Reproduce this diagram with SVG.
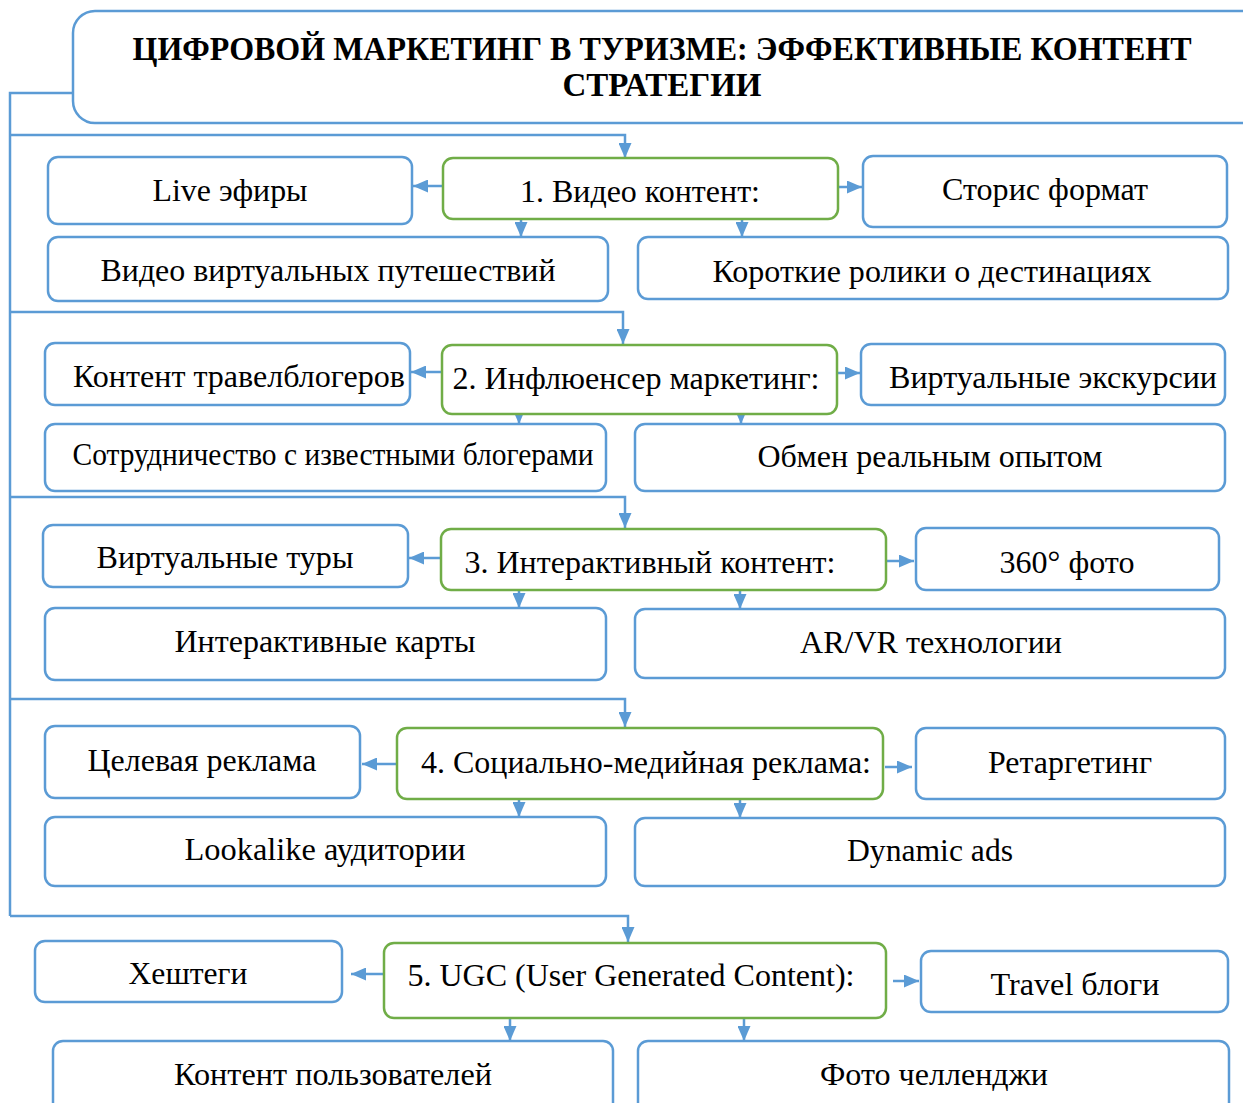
<svg xmlns="http://www.w3.org/2000/svg" width="1243" height="1103" viewBox="0 0 1243 1103">
<defs>
<marker id="ah" viewBox="0 0 15 13" refX="15" refY="6.5" markerWidth="15" markerHeight="13" markerUnits="userSpaceOnUse" orient="auto">
<path d="M0,0 L15,6.5 L0,13 Z" fill="#5B9BD5"/>
</marker>
<style>
.b{fill:#fff;stroke:#5B9BD5;stroke-width:2.5}
.g{fill:#fff;stroke:#70AD47;stroke-width:2.5}
.c{fill:none;stroke:#5B9BD5;stroke-width:2.5}
.a{fill:none;stroke:#5B9BD5;stroke-width:2.5;marker-end:url(#ah)}
text{font-family:'Liberation Serif','Times New Roman',serif;font-size:32px;fill:#000;text-anchor:middle}
.t{font-weight:bold;font-size:33px}
</style>
</defs>
<rect width="1243" height="1103" fill="#fff"/>
<g id="title">
<rect class="b" x="73" y="11" width="1190" height="112" rx="22"/>
<text class="t" x="662" y="60" textLength="1059" lengthAdjust="spacingAndGlyphs">ЦИФРОВОЙ МАРКЕТИНГ В ТУРИЗМЕ: ЭФФЕКТИВНЫЕ КОНТЕНТ</text>
<text class="t" x="662" y="96" textLength="199" lengthAdjust="spacingAndGlyphs">СТРАТЕГИИ</text>
</g>
<g id="connectors">
<path class="c" d="M73,93 H10 V916"/>
<path class="a" d="M10,135 H625 V158"/>
<path class="a" d="M10,312 H623 V344"/>
<path class="a" d="M10,497 H625 V528"/>
<path class="a" d="M10,699 H625 V727"/>
<path class="a" d="M10,916 H628 V942"/>
<path class="a" d="M443,186 H413"/>
<path class="a" d="M838,187 H862"/>
<path class="a" d="M521,219 V237"/>
<path class="a" d="M742,219 V237"/>
<path class="a" d="M442,372 H411"/>
<path class="a" d="M837,373 H860"/>
<path class="a" d="M519,413 V424"/>
<path class="a" d="M741,413 V424"/>
<path class="a" d="M441,558 H409"/>
<path class="a" d="M886,561 H914"/>
<path class="a" d="M519,590 V608"/>
<path class="a" d="M740,590 V609"/>
<path class="a" d="M397,764 H362"/>
<path class="a" d="M885,767 H912"/>
<path class="a" d="M519,799 V817"/>
<path class="a" d="M740,799 V818"/>
<path class="a" d="M384,974 H351"/>
<path class="a" d="M893,981 H919"/>
<path class="a" d="M510,1018 V1041"/>
<path class="a" d="M744,1018 V1041"/>
</g>
<g id="n1">
<rect class="g" x="443" y="158" width="395" height="61" rx="10"/>
<text x="640" y="202" textLength="240" lengthAdjust="spacingAndGlyphs">1. Видео контент:</text>
</g>
<g id="n1a">
<rect class="b" x="48" y="157" width="364" height="67" rx="10"/>
<text x="230" y="201" textLength="155" lengthAdjust="spacingAndGlyphs">Live эфиры</text>
</g>
<g id="n1b">
<rect class="b" x="863" y="156" width="364" height="71" rx="10"/>
<text x="1045" y="200" textLength="206" lengthAdjust="spacingAndGlyphs">Сторис формат</text>
</g>
<g id="n1c">
<rect class="b" x="48" y="237" width="560" height="64" rx="10"/>
<text x="328" y="281" textLength="455" lengthAdjust="spacingAndGlyphs">Видео виртуальных путешествий</text>
</g>
<g id="n1d">
<rect class="b" x="638" y="237" width="590" height="62" rx="10"/>
<text x="932" y="282" textLength="439" lengthAdjust="spacingAndGlyphs">Короткие ролики о дестинациях</text>
</g>
<g id="n2">
<rect class="g" x="442" y="345" width="395" height="69" rx="10"/>
<text x="636" y="389" textLength="367" lengthAdjust="spacingAndGlyphs">2. Инфлюенсер маркетинг:</text>
</g>
<g id="n2a">
<rect class="b" x="45" y="343" width="365" height="62" rx="10"/>
<text x="239" y="387" textLength="332" lengthAdjust="spacingAndGlyphs">Контент травелблогеров</text>
</g>
<g id="n2b">
<rect class="b" x="861" y="344" width="364" height="61" rx="10"/>
<text x="1053" y="388" textLength="328" lengthAdjust="spacingAndGlyphs">Виртуальные экскурсии</text>
</g>
<g id="n2c">
<rect class="b" x="45" y="424" width="561" height="67" rx="10"/>
<text x="333" y="465" textLength="521" lengthAdjust="spacingAndGlyphs">Сотрудничество с известными блогерами</text>
</g>
<g id="n2d">
<rect class="b" x="635" y="424" width="590" height="67" rx="10"/>
<text x="930" y="467" textLength="345" lengthAdjust="spacingAndGlyphs">Обмен реальным опытом</text>
</g>
<g id="n3">
<rect class="g" x="441" y="529" width="445" height="61" rx="10"/>
<text x="650" y="573" textLength="371" lengthAdjust="spacingAndGlyphs">3. Интерактивный контент:</text>
</g>
<g id="n3a">
<rect class="b" x="43" y="525" width="365" height="62" rx="10"/>
<text x="225" y="568" textLength="257" lengthAdjust="spacingAndGlyphs">Виртуальные туры</text>
</g>
<g id="n3b">
<rect class="b" x="916" y="528" width="303" height="62" rx="10"/>
<text x="1067" y="573" textLength="135" lengthAdjust="spacingAndGlyphs">360° фото</text>
</g>
<g id="n3c">
<rect class="b" x="45" y="608" width="561" height="72" rx="10"/>
<text x="325" y="652" textLength="301" lengthAdjust="spacingAndGlyphs">Интерактивные карты</text>
</g>
<g id="n3d">
<rect class="b" x="635" y="609" width="590" height="69" rx="10"/>
<text x="931" y="653" textLength="262" lengthAdjust="spacingAndGlyphs">AR/VR технологии</text>
</g>
<g id="n4">
<rect class="g" x="397" y="728" width="486" height="71" rx="10"/>
<text x="646" y="773" textLength="450" lengthAdjust="spacingAndGlyphs">4. Социально-медийная реклама:</text>
</g>
<g id="n4a">
<rect class="b" x="45" y="726" width="315" height="72" rx="10"/>
<text x="202" y="771" textLength="229" lengthAdjust="spacingAndGlyphs">Целевая реклама</text>
</g>
<g id="n4b">
<rect class="b" x="916" y="728" width="309" height="71" rx="10"/>
<text x="1070" y="773" textLength="164" lengthAdjust="spacingAndGlyphs">Ретаргетинг</text>
</g>
<g id="n4c">
<rect class="b" x="45" y="817" width="561" height="69" rx="10"/>
<text x="325" y="860" textLength="281" lengthAdjust="spacingAndGlyphs">Lookalike аудитории</text>
</g>
<g id="n4d">
<rect class="b" x="635" y="818" width="590" height="68" rx="10"/>
<text x="930" y="861" textLength="166" lengthAdjust="spacingAndGlyphs">Dynamic ads</text>
</g>
<g id="n5">
<rect class="g" x="384" y="943" width="502" height="75" rx="10"/>
<text x="631" y="986" textLength="447" lengthAdjust="spacingAndGlyphs">5. UGC (User Generated Content):</text>
</g>
<g id="n5a">
<rect class="b" x="35" y="941" width="307" height="61" rx="10"/>
<text x="188" y="984" textLength="119" lengthAdjust="spacingAndGlyphs">Хештеги</text>
</g>
<g id="n5b">
<rect class="b" x="921" y="951" width="307" height="61" rx="10"/>
<text x="1075" y="995" textLength="169" lengthAdjust="spacingAndGlyphs">Travel блоги</text>
</g>
<g id="n5c">
<rect class="b" x="53" y="1041" width="560" height="75" rx="10"/>
<text x="333" y="1085" textLength="318" lengthAdjust="spacingAndGlyphs">Контент пользователей</text>
</g>
<g id="n5d">
<rect class="b" x="638" y="1041" width="591" height="75" rx="10"/>
<text x="934" y="1085" textLength="228" lengthAdjust="spacingAndGlyphs">Фото челленджи</text>
</g>
</svg>
